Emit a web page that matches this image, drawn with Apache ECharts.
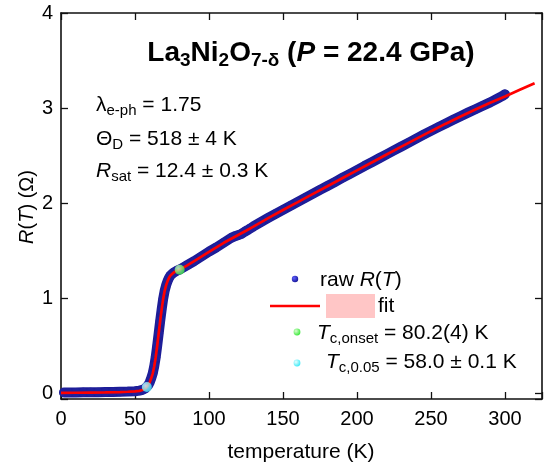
<!DOCTYPE html>
<html><head><meta charset="utf-8">
<script src="https://cdn.jsdelivr.net/npm/echarts@6/dist/echarts.min.js"></script>
<style>html,body{margin:0;padding:0;background:#fff}#c{width:549px;height:468px}</style>
</head><body><div id="c"></div>
<script>
// ---- data ----
const rawT = [2,5,10,15,20,25,30,35,40,45,50,53,55,56,57,58,59,60,61,62,63,64,65,66,67,68,69,70,71,72,73,74,75,76,77,78,79,80,82,85,90,95,100,105,110,115,118,120,122,124,126,128,130,135,140,145,150,155,160,165,170,175,180,185,190,195,200,205,210,215,220,225,230,235,240,245,250,255,260,265,270,275,280,285,290,295,298,300];
const rawR = [0.008,0.008,0.009,0.010,0.011,0.012,0.013,0.014,0.016,0.018,0.022,0.028,0.036,0.042,0.052,0.066,0.088,0.118,0.16,0.21,0.285,0.38,0.5,0.63,0.76,0.88,0.99,1.075,1.135,1.18,1.215,1.24,1.256,1.268,1.278,1.287,1.294,1.3,1.318,1.345,1.39,1.44,1.49,1.535,1.585,1.635,1.655,1.665,1.678,1.698,1.716,1.735,1.755,1.8,1.845,1.888,1.93,1.972,2.013,2.055,2.097,2.14,2.18,2.222,2.265,2.306,2.347,2.39,2.43,2.472,2.513,2.555,2.596,2.637,2.678,2.72,2.76,2.8,2.838,2.877,2.915,2.952,2.988,3.025,3.06,3.1,3.125,3.145];
const fitT = [0,10,20,30,40,45,50,53,55,56,57,58,59,60,61,62,63,64,65,66,67,68,69,70,71,72,73,74,75,76,77,78,80,85,90,100,110,120,125,130,140,150,160,170,180,190,200,210,220,230,240,250,260,270,280,290,300,310,320];
const fitR = [0.004,0.006,0.008,0.010,0.013,0.016,0.02,0.026,0.034,0.04,0.05,0.066,0.088,0.118,0.16,0.21,0.285,0.38,0.5,0.63,0.76,0.88,0.99,1.075,1.135,1.18,1.215,1.24,1.256,1.268,1.278,1.287,1.3,1.343,1.39,1.488,1.583,1.668,1.71,1.753,1.843,1.928,2.011,2.095,2.178,2.262,2.345,2.428,2.511,2.594,2.676,2.757,2.836,2.912,2.985,3.055,3.122,3.192,3.262];
const tcOnsetPt = [80.2, 1.30];
const tc005Pt = [58.0, 0.066];
const xRange = [0, 325];
const yRange = [-0.06, 4];
const xStep = 50;

const F = '"Liberation Sans", Arial, sans-serif';
const chart = echarts.init(document.getElementById('c'), null, {renderer: 'canvas'});
const AX = '#111';
function ball(c1, c2) {
  return new echarts.graphic.RadialGradient(0.35, 0.35, 0.75, [{offset: 0, color: c1}, {offset: 1, color: c2}]);
}
const GREEN = () => ball('#d8ffd0', '#2ee62e');
const CYAN = () => ball('#e8ffff', '#2ee8f6');
const axisCommon = {
  type: 'value',
  axisLine: {show: true, onZero: false, lineStyle: {color: AX, width: 1.6}},
  axisTick: {show: true, inside: true, length: 7, lineStyle: {color: AX, width: 1.3}},
  splitLine: {show: false}
};
const txt = () => ({
  m: {fontSize: 21, lineHeight: 26, fontFamily: F},
  mi: {fontSize: 21, lineHeight: 26, fontFamily: F, fontStyle: 'italic'},
  s: {fontSize: 15, lineHeight: 12, verticalAlign: 'bottom', fontFamily: F}
});
function label(x, y, text) {
  return {type: 'text', x: x, y: y, z: 100,
    style: {text: text, rich: txt(), align: 'left', verticalAlign: 'middle', fill: '#000', fontFamily: F, fontSize: 21}};
}
const option = {
  animation: false,
  backgroundColor: '#fff',
  grid: {left: 61, right: 7, top: 13, bottom: 69},
  xAxis: [
    Object.assign({}, axisCommon, {min: xRange[0], max: xRange[1], interval: xStep, position: 'bottom',
      axisLabel: {fontSize: 20, color: '#000', fontFamily: F, margin: 10,
        formatter: v => (v % xStep === 0 ? String(v) : '')}}),
    Object.assign({}, axisCommon, {min: xRange[0], max: xRange[1], interval: xStep, position: 'top',
      axisLabel: {show: false}})
  ],
  yAxis: [
    Object.assign({}, axisCommon, {min: yRange[0], max: yRange[1], minInterval: 1, maxInterval: 1, position: 'left',
      axisLabel: {fontSize: 20, color: '#000', fontFamily: F, margin: 8,
        formatter: v => (Number.isInteger(v) ? String(v) : '')}}),
    Object.assign({}, axisCommon, {min: yRange[0], max: yRange[1], minInterval: 1, maxInterval: 1, position: 'right',
      axisLabel: {show: false}})
  ],
  series: [
    {name: 'raw R(T)', type: 'line', xAxisIndex: 0, yAxisIndex: 0,
      data: rawT.map((t, i) => [t, rawR[i]]),
      lineStyle: {color: '#1c1c96', width: 10, cap: 'round', join: 'round'},
      symbol: 'circle', symbolSize: 9, showSymbol: true, showAllSymbol: true,
      itemStyle: {color: '#20209c'}, z: 2, silent: true},
    {name: 'fit', type: 'line', data: fitT.map((t, i) => [t, fitR[i]]),
      lineStyle: {color: '#ff0000', width: 2.7}, symbol: 'none', z: 3, silent: true},
    {name: 'Tc,onset', type: 'scatter', data: [tcOnsetPt], symbolSize: 10,
      itemStyle: {color: GREEN()}, z: 4},
    {name: 'Tc,0.05', type: 'scatter', data: [tc005Pt], symbolSize: 10,
      itemStyle: {color: CYAN()}, z: 4}
  ],
  graphic: [
    {type: 'text', x: 311, y: 53, z: 100, style: {
      text: '{b|La}{bs|3}{b|Ni}{bs|2}{b|O}{bs|7-δ}{b| (}{bi|P}{b| = 22.4 GPa)}',
      align: 'center', verticalAlign: 'middle', fill: '#000',
      rich: {
        b: {fontSize: 28, fontWeight: 'bold', lineHeight: 34, fontFamily: F},
        bi: {fontSize: 28, fontWeight: 'bold', fontStyle: 'italic', lineHeight: 34, fontFamily: F},
        bs: {fontSize: 19, fontWeight: 'bold', lineHeight: 16, verticalAlign: 'bottom', fontFamily: F}
      }}},
    label(96, 105, '{m|λ}{s|e-ph}{m| = 1.75}'),
    label(96, 139, '{m|Θ}{s|D}{m| = 518 ± 4 K}'),
    label(96, 171, '{mi|R}{s|sat}{m| = 12.4 ± 0.3 K}'),
    {type: 'text', x: 27, y: 207, rotation: Math.PI / 2, z: 100, style: {
      text: '{mi|R}{m|(}{mi|T}{m|) (Ω)}', align: 'center', verticalAlign: 'middle', fill: '#000',
      rich: {m: {fontSize: 20, fontFamily: F}, mi: {fontSize: 20, fontFamily: F, fontStyle: 'italic'}}}},
    {type: 'text', x: 301, y: 452, z: 100, style: {
      text: 'temperature (K)', align: 'center', verticalAlign: 'middle', fill: '#000',
      fontSize: 21, fontFamily: F}},
    {type: 'circle', shape: {cx: 295, cy: 279, r: 3.2}, style: {fill: ball('#6060ff', '#101090')}, z: 100},
    label(320, 280, '{m|raw }{mi|R}{m|(}{mi|T}{m|)}'),
    {type: 'line', shape: {x1: 270, y1: 306, x2: 320, y2: 306}, style: {stroke: '#ff0000', lineWidth: 2.7}, z: 100},
    {type: 'rect', shape: {x: 326, y: 294, width: 49, height: 24}, style: {fill: '#ffc6c6'}, z: 99},
    label(378, 306, '{m|fit}'),
    {type: 'circle', shape: {cx: 297, cy: 332, r: 3.4}, style: {fill: GREEN()}, z: 100},
    label(317, 333, '{mi|T}{s|c,onset}{m| = 80.2(4) K}'),
    {type: 'circle', shape: {cx: 297, cy: 363, r: 3.4}, style: {fill: CYAN()}, z: 100},
    label(326, 362, '{mi|T}{s|c,0.05}{m| = 58.0 ± 0.1 K}')
  ]
};
chart.setOption(option);
</script>
</body></html>
